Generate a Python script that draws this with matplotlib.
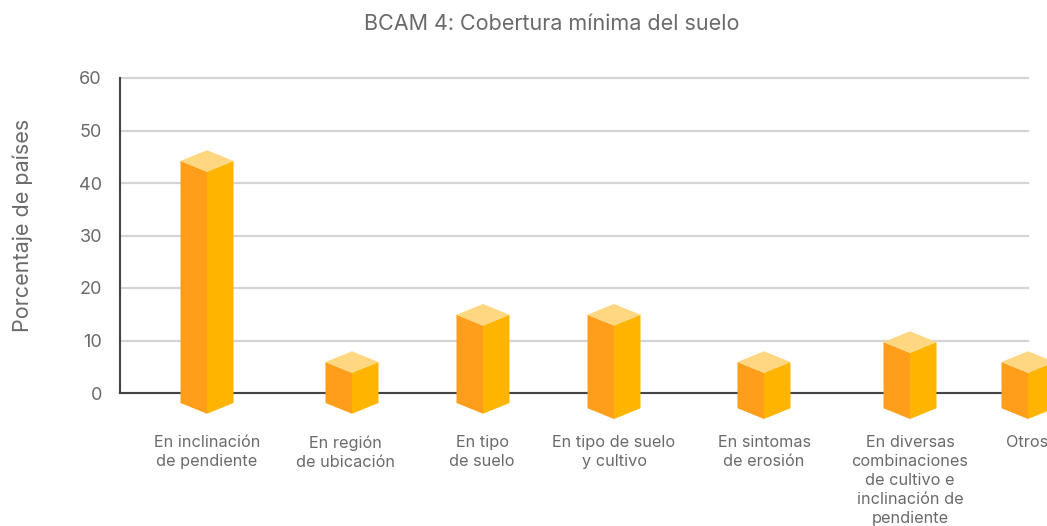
import matplotlib
matplotlib.use('Agg')
import matplotlib.pyplot as plt

categories = [
    'En inclinación\nde pendiente',
    'En región\nde ubicación',
    'En tipo\nde suelo',
    'En tipo de suelo\ny cultivo',
    'En sintomas\nde erosión',
    'En diversas\ncombinaciones\nde cultivo e\ninclinación de\npendiente',
    'Otros',
]
values = [44.2, 5.9, 14.9, 14.9, 5.9, 9.7, 5.9]
bases = [-1.9, -1.9, -1.9, -2.9, -2.9, -2.9, -2.9]
y_ticks = [0, 10, 20, 30, 40, 50, 60]

# axis runs in pixels across so the uneven spacing is easy to keep
bar_x = [207, 352, 483, 614, 764, 910, 1028]
label_x = [207, 345, 482, 614, 764, 910, 1027]
half_w = 26.5
depth = 2.05

plt.rcParams['font.family'] = ['Inter', 'DejaVu Sans']
text_color = '#6a6a6a'

W, H = 1047, 526
fig = plt.figure(figsize=(W / 100, H / 100), dpi=100)
ax = fig.add_axes([120 / W, (H - 393) / H, (1028 - 120) / W, (393 - 78) / H])
ax.set_xlim(120, 1028)
ax.set_ylim(0, 60)

ax.set_yticks(y_ticks)
ax.set_xticks(label_x)
ax.set_xticklabels(categories, fontsize=11.7, color=text_color, linespacing=1.32)
ax.tick_params(axis='x', length=0, pad=30.5)
ax.tick_params(axis='y', length=0, pad=13, labelsize=13, labelcolor=text_color)
ax.grid(axis='y', color='#d4d4d4', linewidth=1.6, clip_on=False)
ax.set_axisbelow(True)

for s in ['top', 'right']:
    ax.spines[s].set_visible(False)
ax.spines['left'].set_color('#444444')
ax.spines['left'].set_linewidth(1.5)
ax.spines['bottom'].set_color('#444444')
ax.spines['bottom'].set_linewidth(1.5)
ax.spines['bottom'].set_zorder(2.5)

for x, v, b in zip(bar_x, values, bases):
    left = x - half_w
    right = x + half_w
    ax.fill([left, x, x, left], [v, v - depth, b - depth, b], color='#ff9e1b', lw=0, clip_on=False, zorder=3)
    ax.fill([x, right, right, x], [v - depth, v, b, b - depth], color='#ffb500', lw=0, clip_on=False, zorder=3)
    ax.fill([left, x, right, x], [v, v + depth, v, v - depth], color='#ffd780', lw=0, clip_on=False, zorder=3)

fig.text(552 / W, (H - 24) / H, 'BCAM 4: Cobertura mínima del suelo', ha='center', va='center',
         fontsize=15.5, color=text_color)
fig.text(23 / W, (H - 225) / H, 'Porcentaje de países', ha='center', va='center', rotation=90,
         fontsize=15.5, color=text_color)

fig.savefig('out.png', dpi=100)
